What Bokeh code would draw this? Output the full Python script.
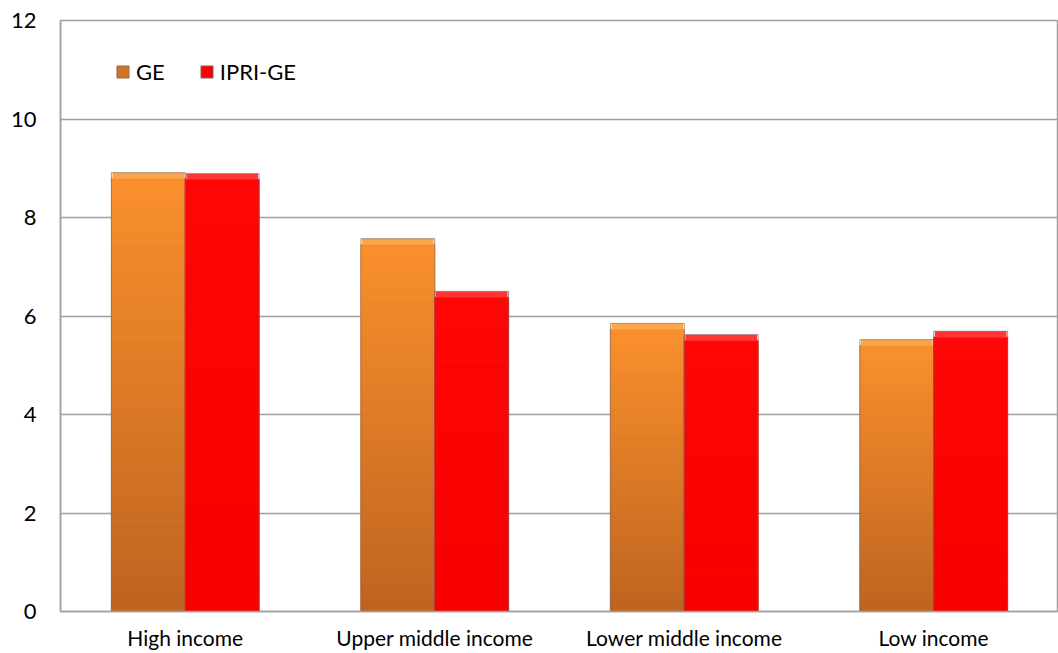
from bokeh.plotting import figure
from bokeh.models import ColumnDataSource, Range1d, Legend, LegendItem, FixedTicker
from bokeh.embed import file_html
from bokeh.resources import INLINE

categories = ["High income", "Upper middle income", "Lower middle income", "Low income"]
ge = [8.91, 7.57, 5.85, 5.52]
ipri_ge = [8.89, 6.50, 5.62, 5.69]
series_names = ["GE", "IPRI-GE"]
y_ticks = [0, 2, 4, 6, 8, 10, 12]

FONT = "Lato"
N_SLICES = 40
BAR_W = 0.296
OFFSET = 0.148
BEVEL = 0.12
FRAME_W = 998
FRAME_H = 591

cat_pos = [i + 0.5 for i in range(len(categories))]


def hex_to_rgb(h):
    h = h.lstrip("#")
    return tuple(int(h[i:i + 2], 16) for i in (0, 2, 4))


def lerp(c1, c2, t):
    a, b = hex_to_rgb(c1), hex_to_rgb(c2)
    return "#%02x%02x%02x" % tuple(int(round(a[i] + (b[i] - a[i]) * t)) for i in range(3))


def gradient_source(values, off, bottom_color, top_color):
    xs, bots, tops, cols = [], [], [], []
    for xc, v in zip(cat_pos, values):
        body = v - BEVEL
        for i in range(N_SLICES):
            t = i / (N_SLICES - 1)
            xs.append(xc + off)
            bots.append(body * i / N_SLICES)
            tops.append(body * (i + 1) / N_SLICES)
            cols.append(lerp(bottom_color, top_color, t))
    return ColumnDataSource(dict(x=xs, bottom=bots, top=tops, color=cols))


p = figure(
    x_range=Range1d(0, len(categories)),
    y_range=Range1d(0, 12),
    width=1058, height=653,
    frame_width=FRAME_W, frame_height=FRAME_H,
    output_backend="svg", toolbar_location=None,
    min_border_left=60, min_border_right=0, min_border_top=20, min_border_bottom=0,
)

styles = [
    # bottom, top, bevel, outline, offset
    ("#bf6420", "#f98f2c", "#fba64a", "#8d6a52", -OFFSET),
    ("#f80000", "#ff0606", "#ff3434", "#8a5a5a", OFFSET),
]

leg_renderers = []
for vals, (bc, tc, bevc, lc, off) in zip([ge, ipri_ge], styles):
    src = gradient_source(vals, off, bc, tc)
    p.vbar(x="x", bottom="bottom", top="top", width=BAR_W, source=src,
           fill_color="color", line_color="color", line_width=1)
    bsrc = ColumnDataSource(dict(x=[c + off for c in cat_pos], top=vals,
                                 bottom=[v - BEVEL for v in vals]))
    p.vbar(x="x", bottom="bottom", top="top", width=BAR_W * 0.97, source=bsrc,
           fill_color=bevc, line_color=None)
    osrc = ColumnDataSource(dict(x=[c + off for c in cat_pos], top=vals))
    p.vbar(x="x", top="top", bottom=0, width=BAR_W, source=osrc,
           fill_alpha=0, line_color=lc, line_width=1, line_alpha=0.7)
    # legend swatch (kept outside the visible y range)
    lr = p.vbar(x=[cat_pos[0]], top=[-1], bottom=[-2], width=BAR_W,
                fill_color=lerp(bc, tc, 0.35), line_color=lc, line_width=1)
    leg_renderers.append(lr)

legend = Legend(
    items=[LegendItem(label=n, renderers=[r]) for n, r in zip(series_names, leg_renderers)],
    orientation="horizontal", location=(55, FRAME_H - 65),
    padding=0, margin=0, spacing=34, label_standoff=6,
    glyph_width=15, glyph_height=15, label_height=22,
    label_text_font=FONT, label_text_font_size="22px", label_text_color="#000000",
    border_line_color=None, background_fill_alpha=0,
)
p.add_layout(legend, "center")

p.xgrid.grid_line_color = None
p.ygrid.grid_line_color = "#a0a0a0"
p.ygrid.grid_line_width = 1.5
p.yaxis.ticker = FixedTicker(ticks=y_ticks)
p.xaxis.ticker = FixedTicker(ticks=cat_pos)
p.xaxis.major_label_overrides = {c: lab for c, lab in zip(cat_pos, categories)}
p.outline_line_color = "#a0a0a0"
p.outline_line_width = 1.5

for ax in (p.xaxis, p.yaxis):
    ax.major_tick_line_color = None
    ax.minor_tick_line_color = None
    ax.major_tick_out = 0
    ax.major_tick_in = 0
    ax.axis_line_color = "#a0a0a0"
    ax.axis_line_width = 1.5
    ax.major_label_text_font = FONT
    ax.major_label_text_color = "#000000"

p.yaxis.major_label_text_font_size = "22px"
p.yaxis.major_label_standoff = 24
p.xaxis.major_label_text_font_size = "21px"
p.xaxis.major_label_standoff = 13

p.background_fill_color = "white"
p.border_fill_color = "white"

open("out.html", "w").write(file_html(p, INLINE))
